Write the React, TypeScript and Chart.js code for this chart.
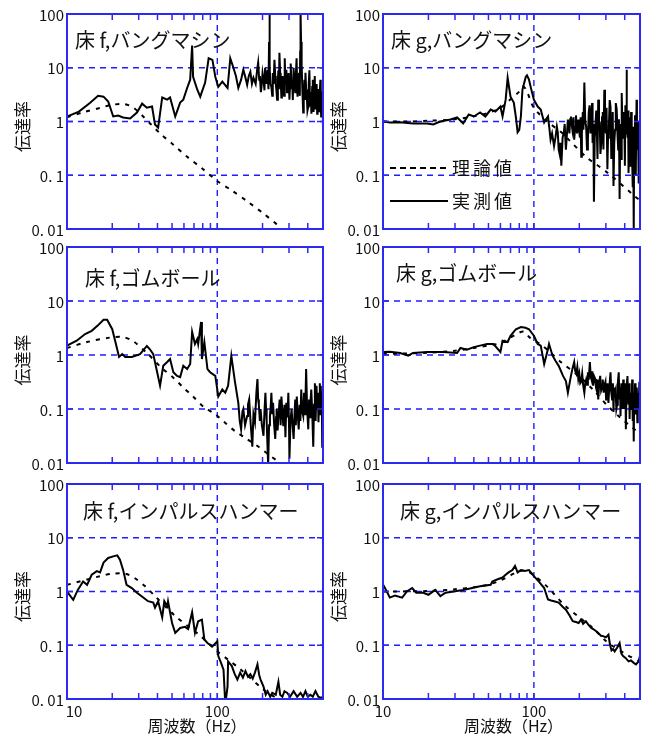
import { useEffect, useRef } from "react";
import { Chart, registerables } from "chart.js";
Chart.register(...registerables);

type Pt = [number, number];

// ---------- axis values ----------
const xMin = 10;
const xMax = 505;
const yMin = 0.01;
const yMax = 100;
const xMinorTicks = [20, 30, 40, 50, 60, 70, 80, 90, 200, 300, 400];
const xGridValues = [100];
const yGridValues = [0.1, 1, 10];
const yTickValues = [100, 10, 1, 0.1, 0.01];
const yTickLabels = ["100", "10", "1", "0. 1", "0. 01"];
const xTickValues = [10, 100];
const xTickLabels = ["10", "100"];
const yAxisTitle = "伝達率";
const xAxisTitle = "周波数（Hz）";
const legendLabels = ["理論値", "実測値"];

// ---------- 床 f, バングマシン ----------
const fBangMeasured: Pt[] = [
  [10, 1.24], [12, 1.53], [14.2, 2.2], [16.1, 3.0], [17.5, 2.9], [18.8, 2.35], [20.3, 1.24], [21.9, 1.29],
  [23.6, 1.19], [26.3, 1.14], [29.2, 1.47], [31.6, 2.15], [34, 1.8], [36.8, 1.9], [38.5, 0.88], [40.4, 0.77],
  [43, 2.8], [46.4, 2.55], [48.5, 2.8], [52.5, 1.24], [56.6, 2.25], [59.4, 2.55], [63, 4.2], [66, 6],
  [68, 26], [69, 6.8], [73.6, 3.9], [77, 2.9], [83, 5.3], [87.6, 15], [92.8, 14], [97, 6.8],
  [101.5, 4.4], [108, 5.5], [117, 4.2], [122, 15], [128, 10], [133, 7], [138, 4.2], [144, 6],
  [149, 9.2], [154, 6.5], [158, 4.8], [162, 7], [166, 8.4], [170, 5], [174, 6.5], [180, 5],
  [184, 9], [187, 12.4], [190, 6], [192, 7], [195, 3.5], [197, 4.5], [200, 8], [203, 6],
  [206, 3.8], [208, 10], [211, 6], [213, 5], [216, 9.2], [219, 4], [221, 30], [222, 110],
  [224, 10], [226, 5], [229, 4.4], [232, 3], [234, 8], [237, 5], [240, 14], [243, 7],
  [245, 5], [248, 3.5], [250, 2.55], [253, 6], [255, 9], [257, 4], [259, 19], [262, 8],
  [264, 6], [267, 2.8], [269, 3], [272, 7], [275, 4.4], [278, 3], [281, 15], [284, 5],
  [288, 9.2], [291, 3.5], [295, 4], [298, 8], [302, 2.55], [305, 5], [308, 12], [312, 4],
  [315, 6], [318, 2.5], [322, 10], [326, 5], [330, 3.5], [333, 7], [337, 15], [340, 4],
  [342, 2.9], [346, 6], [350, 8], [354, 3], [356, 20], [358, 110], [361, 30], [364, 12],
  [368, 4], [373, 1.47], [376, 3], [380, 6], [383, 2.5], [386, 8.1], [390, 4], [394, 3],
  [398, 1.6], [403, 1.9], [406, 5], [410, 9], [414, 2], [418, 3.5], [423, 1.4], [428, 4.4],
  [432, 6], [437, 1.5], [441, 3], [445, 7], [448, 2.5], [450, 1.67], [454, 3], [458, 5],
  [462, 1.4], [465, 2.2], [468, 4], [471, 3.4], [475, 2], [478, 1.5], [482, 3], [485, 6],
  [488, 2], [491, 1.24], [494, 3], [497, 2.5], [500, 1.3], [503, 3.6], [505, 0.7],
];
const fBangTheory: Pt[] = [
  [10, 1.2], [13, 1.5], [16.7, 1.8], [20, 2.05], [24, 2.1], [27, 1.9], [30, 1.5], [32, 1.25],
  [36, 0.9], [41.6, 0.6], [51, 0.37], [63, 0.22], [79, 0.135], [100, 0.078], [125, 0.052],
  [160, 0.032], [200, 0.02], [250, 0.012], [270, 0.0095],
];

// ---------- 床 g, バングマシン ----------
const gBangMeasured: Pt[] = [
  [10, 1.0], [11.1, 0.96], [13, 0.97], [15.8, 0.92], [19.6, 0.92], [21.5, 0.88], [24, 1.0], [28, 1.09],
  [31, 1.19], [34, 0.92], [37, 1.35], [40, 1.24], [44, 1.47], [47.7, 1.24], [51.7, 1.67], [55.6, 1.53],
  [60, 1.9], [62, 1.24], [65, 2.55], [67, 6.5], [70, 2.9], [73.6, 2.25], [76, 1.2], [78, 0.63],
  [80, 0.7], [82, 1.24], [84, 3.9], [88.4, 6.8], [90, 7.2], [92.8, 6], [96, 4], [100, 2.55],
  [106, 1.9], [111, 1.67], [117, 0.96], [124, 1.24], [127, 0.7], [129, 0.46], [132, 0.6], [136, 0.35],
  [139, 0.5], [142, 0.8], [144, 0.63], [146, 0.3], [148, 0.25], [150, 0.4], [152, 0.15], [155, 0.5],
  [158, 0.63], [160, 0.9], [163, 0.3], [165, 0.5], [168, 1.09], [170, 0.8], [172, 0.6], [174, 1.1],
  [176, 1.24], [178, 0.9], [180, 0.7], [183, 1.2], [185, 0.46], [188, 0.8], [190, 1.3], [193, 0.6],
  [197, 1.09], [199, 0.7], [202, 0.5], [204, 1.2], [206, 0.22], [208, 0.6], [211, 1.5], [213, 0.7],
  [216, 5.3], [219, 1.0], [222, 0.8], [225, 0.3], [228, 0.46], [231, 1.5], [234, 2], [237, 0.6],
  [240, 1.24], [243, 2.2], [245, 0.4], [248, 0.9], [250, 0.032], [253, 0.5], [256, 0.9], [259, 1.6],
  [262, 0.5], [264, 0.2], [267, 2.55], [270, 0.8], [273, 1.0], [276, 0.25], [280, 0.41], [283, 1.2],
  [286, 1.5], [289, 0.3], [293, 3.9], [296, 0.9], [300, 0.6], [303, 1.8], [307, 0.13], [310, 0.5],
  [314, 0.8], [318, 2.5], [322, 1.9], [326, 0.2], [330, 0.5], [333, 1.5], [337, 0.063], [341, 0.4],
  [345, 0.7], [349, 2.2], [354, 1.67], [358, 0.6], [362, 0.3], [366, 1.1], [370, 0.036], [373, 0.5],
  [376, 0.9], [379, 0.2], [382, 3.4], [386, 0.8], [390, 0.5], [394, 1.5], [398, 0.81], [401, 0.15],
  [404, 2], [408, 0.6], [411, 9.2], [414, 1.2], [418, 0.5], [421, 1.6], [424, 0.11], [428, 0.7],
  [432, 1.2], [435, 0.15], [438, 0.3], [441, 1.5], [445, 0.63], [448, 0.2], [452, 0.06], [455, 0.8],
  [459, 0.009], [462, 0.5], [465, 0.22], [468, 1.3], [472, 0.9], [475, 0.1], [479, 2.55], [482, 0.5],
  [486, 0.3], [490, 1.0], [494, 0.07], [496, 0.3], [498, 0.6], [500, 0.2], [502, 0.41], [505, 0.15],
];
const gBangTheory: Pt[] = [
  [10, 1.0], [15, 1.0], [20, 1.03], [30, 1.1], [40, 1.25], [50, 1.45], [60, 1.8], [70, 2.6],
  [80, 3.6], [85, 4.5], [90, 3.6], [100, 1.8], [125, 0.96], [150, 0.65], [170, 0.46], [222, 0.22],
  [310, 0.11], [465, 0.041], [505, 0.034],
];

// ---------- 床 f, ゴムボール ----------
const fBallMeasured: Pt[] = [
  [10, 1.49], [11.6, 1.84], [13.2, 2.45], [14.6, 2.8], [16, 3.5], [17.5, 4.5], [18.5, 4.5], [20, 3.0],
  [21, 1.74], [22.2, 0.92], [23.3, 1.04], [24.4, 0.92], [27, 0.92], [30.6, 1.04], [34, 1.47], [35.5, 1.29],
  [37.5, 1.04], [39.8, 0.48], [41.6, 0.27], [43.7, 0.63], [46.4, 0.74], [48.5, 0.84], [51, 0.48], [54, 0.41],
  [56.6, 0.39], [59.4, 0.63], [63, 0.55], [66, 0.68], [68, 2.67], [71, 1.6], [73.6, 1.98], [74.6, 1.6],
  [78, 4.1], [79, 0.84], [82, 1.74], [86, 0.55], [89.6, 0.48], [97, 0.41], [101.5, 0.17], [108, 0.23],
  [113, 0.2], [118, 0.27], [124, 0.96], [131, 0.32], [138, 0.13], [141, 0.06], [144, 0.042], [147, 0.09],
  [149, 0.1], [153, 0.05], [158, 0.074], [160, 0.12], [163, 0.15], [167, 0.05], [171, 0.02], [174, 0.08],
  [178, 0.057], [182, 0.2], [185, 0.36], [187, 0.15], [189, 0.12], [192, 0.06], [194, 0.1], [198, 0.05],
  [203, 0.032], [206, 0.09], [209, 0.2], [211, 0.1], [213, 0.06], [218, 0.009], [221, 0.05], [224, 0.074],
  [227, 0.12], [229, 0.2], [232, 0.08], [235, 0.13], [239, 0.05], [243, 0.028], [246, 0.07], [248, 0.1],
  [252, 0.04], [255, 0.074], [260, 0.15], [264, 0.05], [267, 0.17], [271, 0.09], [275, 0.048], [280, 0.12],
  [284, 0.03], [288, 0.13], [293, 0.07], [297, 0.2], [300, 0.05], [302, 0.012], [307, 0.06], [312, 0.1],
  [317, 0.05], [322, 0.028], [327, 0.09], [330, 0.15], [333, 0.05], [338, 0.17], [343, 0.08], [348, 0.042],
  [353, 0.12], [357, 0.06], [362, 0.23], [367, 0.09], [373, 0.074], [378, 0.2], [384, 0.08], [387, 0.2],
  [390, 0.55], [396, 0.1], [403, 0.042], [408, 0.15], [414, 0.07], [418, 0.15], [422, 0.23], [428, 0.09],
  [435, 0.02], [440, 0.12], [446, 0.3], [451, 0.06], [457, 0.27], [463, 0.1], [467, 0.2], [471, 0.057],
  [476, 0.15], [481, 0.3], [485, 0.08], [488, 0.27], [492, 0.1], [496, 0.2], [499, 0.02], [502, 0.1],
  [505, 0.13],
];
const fBallTheory: Pt[] = [
  [10, 1.35], [13.6, 1.74], [19.3, 2.1], [23.6, 2.15], [27.6, 1.8], [34.6, 1.04], [42, 0.6], [51, 0.38],
  [59.4, 0.25], [69, 0.17], [81, 0.11], [97, 0.08], [113, 0.055], [131, 0.039], [154, 0.029], [188, 0.02],
  [215, 0.015], [250, 0.011], [270, 0.0095],
];

// ---------- 床 g, ゴムボール ----------
const gBallMeasured: Pt[] = [
  [10, 1.14], [11.1, 1.15], [13, 1.09], [14.7, 0.97], [15.8, 1.09], [19.6, 1.14], [25, 1.14], [31, 1.09],
  [32.6, 1.35], [36, 1.25], [40, 1.4], [44, 1.49], [49, 1.6], [54, 1.6], [60, 1.14], [62, 1.84],
  [67, 1.74], [70, 2.27], [76, 3.0], [82, 3.3], [88, 3.2], [92.8, 3.0], [100, 2.27], [106, 1.6],
  [111, 1.49], [117, 0.68], [124, 1.29], [126, 1.6], [133, 0.97], [139, 0.78], [146, 0.63], [156, 0.41],
  [163, 0.33], [168, 0.2], [176, 0.41], [180, 0.55], [185, 0.74], [188, 0.5], [191, 0.45], [194, 0.6],
  [197, 0.36], [200, 0.45], [203, 0.3], [206, 0.32], [209, 0.45], [212, 0.28], [216, 0.2], [219, 0.3],
  [222, 0.35], [225, 0.28], [228, 0.48], [231, 0.35], [235, 0.74], [238, 0.4], [241, 0.35], [244, 0.5],
  [247, 0.27], [251, 0.4], [255, 0.36], [258, 0.25], [261, 0.22], [264, 0.35], [267, 0.15], [271, 0.3],
  [275, 0.41], [279, 0.22], [283, 0.25], [286, 0.35], [290, 0.2], [294, 0.28], [298, 0.32], [301, 0.15],
  [305, 0.18], [308, 0.3], [312, 0.13], [315, 0.22], [318, 0.3], [322, 0.48], [326, 0.2], [330, 0.15],
  [334, 0.3], [337, 0.088], [340, 0.25], [343, 0.2], [348, 0.23], [352, 0.1], [356, 0.12], [360, 0.3],
  [365, 0.48], [368, 0.2], [370, 0.15], [373, 0.25], [375, 0.074], [380, 0.3], [384, 0.2], [388, 0.1],
  [391, 0.35], [394, 0.27], [397, 0.15], [400, 0.1], [404, 0.3], [407, 0.042], [410, 0.15], [412, 0.2],
  [415, 0.35], [417, 0.41], [421, 0.15], [424, 0.12], [428, 0.3], [431, 0.065], [434, 0.2], [438, 0.2],
  [441, 0.1], [445, 0.15], [448, 0.35], [452, 0.06], [455, 0.2], [459, 0.025], [462, 0.15], [465, 0.12],
  [468, 0.3], [470, 0.27], [474, 0.08], [478, 0.1], [481, 0.25], [485, 0.057], [488, 0.15], [492, 0.2],
  [496, 0.1], [500, 0.32], [503, 0.15], [505, 0.11],
];
const gBallTheory: Pt[] = [
  [10, 1.05], [20, 1.1], [30, 1.2], [40, 1.35], [50, 1.5], [57, 1.6], [63, 1.8], [70, 2.1],
  [80, 2.6], [86, 2.7], [93, 2.15], [100, 1.84], [110, 1.6], [125, 1.2], [150, 0.75], [200, 0.4],
  [250, 0.22], [312, 0.11], [370, 0.071], [450, 0.045], [505, 0.035],
];

// ---------- 床 f, インパルスハンマー ----------
const fHammerMeasured: Pt[] = [
  [10, 1.0], [11, 0.7], [11.8, 1.07], [12.8, 1.53], [13.6, 1.33], [14.6, 2.05], [15.8, 2.4], [16.6, 2.27],
  [17.5, 3.45], [18.8, 4.2], [20.3, 4.5], [21.6, 4.7], [22.5, 3.9], [23.6, 2.55], [24.9, 1.33], [27, 1.16],
  [29.2, 0.95], [32, 0.78], [34.6, 0.66], [37.5, 0.62], [38.5, 0.5], [40.4, 0.66], [43, 0.33], [44.4, 0.66],
  [46.4, 0.53], [47, 0.66], [50, 0.26], [52.5, 0.17], [56.6, 0.21], [61, 0.22], [64, 0.2], [68, 0.41],
  [71, 0.17], [74.6, 0.28], [79, 0.3], [82, 0.128], [86, 0.11], [92.8, 0.095], [100, 0.118], [101.5, 0.063],
  [105, 0.05], [110, 0.035], [113, 0.008], [117, 0.017], [118, 0.05], [125, 0.041], [130, 0.03], [136, 0.023],
  [142, 0.031], [148, 0.025], [154, 0.033], [160, 0.026], [166, 0.029], [172, 0.024], [178, 0.031], [185, 0.044],
  [190, 0.028], [194, 0.023], [203, 0.017], [210, 0.012], [216, 0.014], [225, 0.011], [232, 0.013], [245, 0.012],
  [255, 0.021], [262, 0.012], [271, 0.011], [280, 0.014], [292, 0.013], [305, 0.011], [322, 0.014], [340, 0.011],
  [358, 0.013], [372, 0.011], [386, 0.014], [400, 0.011], [416, 0.012], [432, 0.011], [450, 0.014], [470, 0.011],
  [488, 0.0105], [505, 0.011],
];
const fHammerTheory: Pt[] = [
  [10, 1.33], [16.6, 1.93], [20.3, 2.15], [24.4, 2.15], [28, 1.8], [33, 1.26], [38.5, 0.82], [52.5, 0.35],
  [77, 0.15], [100, 0.077], [117, 0.055], [142, 0.036], [203, 0.015], [240, 0.011], [260, 0.0095],
];

// ---------- 床 g, インパルスハンマー ----------
const gHammerMeasured: Pt[] = [
  [10, 1.35], [10.6, 1.0], [11.1, 0.77], [12, 0.84], [13.4, 0.77], [14.4, 1.0], [15.6, 1.16], [16.6, 0.95],
  [18.5, 0.95], [20, 0.87], [22.2, 1.07], [24, 0.82], [26, 0.95], [29.3, 1.0], [34, 1.07], [39, 1.16],
  [44, 1.25], [51.7, 1.33], [53, 1.53], [57, 1.67], [62, 1.82], [65, 2.05], [68, 2.27], [72, 2.5],
  [75, 3.0], [78, 2.27], [82, 2.5], [87, 2.4], [92.8, 2.5], [100, 1.93], [108, 1.53], [117, 1.16],
  [124, 0.71], [130, 0.68], [136, 0.66], [146, 0.62], [155, 0.52], [163, 0.46], [172, 0.36], [181, 0.28],
  [190, 0.27], [198, 0.26], [205, 0.3], [212, 0.25], [221, 0.28], [230, 0.24], [240, 0.21], [254, 0.19],
  [267, 0.17], [278, 0.15], [288, 0.148], [300, 0.14], [312, 0.157], [320, 0.1], [327, 0.08], [335, 0.085],
  [343, 0.077], [356, 0.09], [370, 0.11], [380, 0.07], [390, 0.063], [405, 0.058], [424, 0.05], [440, 0.052],
  [459, 0.047], [475, 0.044], [494, 0.05], [505, 0.063],
];
const gHammerTheory: Pt[] = [
  [10, 1.0], [20, 1.02], [30, 1.1], [40, 1.2], [50, 1.35], [60, 1.6], [70, 2.0], [80, 2.4],
  [90, 2.4], [100, 2.0], [120, 1.3], [136, 0.9], [160, 0.55], [200, 0.33], [250, 0.2], [300, 0.12],
  [400, 0.07], [505, 0.05],
];

// ---------- layout / style ----------
const FONT = '"Noto Sans CJK JP", "Noto Sans", sans-serif';
const FRAME = "#2a2af0";
const GRID = "#1e1eff";

type PanelCfg = {
  title: string;
  measured: Pt[];
  theory: Pt[];
  area: { l: number; r: number; t: number; b: number };
  titleX: number;
  titleY: number;
  yTitleX: number;
  bottomRow: boolean;
  legend: boolean;
};

const panels: PanelCfg[] = [
  { title: "床 f,バングマシン", measured: fBangMeasured, theory: fBangTheory, area: { l: 67, r: 323, t: 14, b: 229 }, titleX: 75, titleY: 40, yTitleX: 23, bottomRow: false, legend: false },
  { title: "床 g,バングマシン", measured: gBangMeasured, theory: gBangTheory, area: { l: 383, r: 640, t: 14, b: 229 }, titleX: 391, titleY: 40, yTitleX: 339, bottomRow: false, legend: true },
  { title: "床 f,ゴムボール", measured: fBallMeasured, theory: fBallTheory, area: { l: 67, r: 323, t: 247, b: 463 }, titleX: 85, titleY: 278, yTitleX: 23, bottomRow: false, legend: false },
  { title: "床 g,ゴムボール", measured: gBallMeasured, theory: gBallTheory, area: { l: 383, r: 640, t: 247, b: 463 }, titleX: 396, titleY: 273, yTitleX: 339, bottomRow: false, legend: false },
  { title: "床 f,インパルスハンマー", measured: fHammerMeasured, theory: fHammerTheory, area: { l: 67, r: 323, t: 484, b: 699 }, titleX: 83, titleY: 511, yTitleX: 23, bottomRow: true, legend: false },
  { title: "床 g,インパルスハンマー", measured: gHammerMeasured, theory: gHammerTheory, area: { l: 383, r: 640, t: 484, b: 699 }, titleX: 400, titleY: 511, yTitleX: 339, bottomRow: true, legend: false },
];

const W = 645;
const H = 735;

function makeDecor(cfg: PanelCfg) {
  return {
    id: "decor",
    beforeDatasetsDraw(chart: any) {
      const { ctx, chartArea: a, scales } = chart;
      const x = scales.x;
      const y = scales.y;
      ctx.save();
      ctx.strokeStyle = GRID;
      ctx.lineWidth = 1.4;
      ctx.setLineDash([6, 5]);
      for (const v of xGridValues) {
        const px = x.getPixelForValue(v);
        ctx.beginPath();
        ctx.moveTo(px, a.top);
        ctx.lineTo(px, a.bottom);
        ctx.stroke();
      }
      for (const v of yGridValues) {
        const py = y.getPixelForValue(v);
        ctx.beginPath();
        ctx.moveTo(a.left, py);
        ctx.lineTo(a.right, py);
        ctx.stroke();
      }
      ctx.restore();
    },
    afterDatasetsDraw(chart: any) {
      const { ctx, chartArea: a, scales } = chart;
      const x = scales.x;
      const y = scales.y;
      ctx.save();
      ctx.strokeStyle = FRAME;
      ctx.lineWidth = 1.5;
      ctx.setLineDash([]);
      const tl = 6;
      for (const v of [...xMinorTicks, ...xGridValues]) {
        const px = x.getPixelForValue(v);
        ctx.beginPath();
        ctx.moveTo(px, a.top);
        ctx.lineTo(px, a.top + tl);
        ctx.moveTo(px, a.bottom);
        ctx.lineTo(px, a.bottom - tl);
        ctx.stroke();
      }
      for (const v of yGridValues) {
        const py = y.getPixelForValue(v);
        ctx.beginPath();
        ctx.moveTo(a.left, py);
        ctx.lineTo(a.left + tl, py);
        ctx.moveTo(a.right, py);
        ctx.lineTo(a.right - tl, py);
        ctx.stroke();
      }
      ctx.lineWidth = 2;
      ctx.strokeRect(a.left, a.top, a.right - a.left, a.bottom - a.top);
      ctx.restore();
    },
    afterDraw(chart: any) {
      const { ctx, chartArea: a, scales } = chart;
      const x = scales.x;
      const y = scales.y;
      ctx.save();
      ctx.fillStyle = "#111";
      // y tick labels
      ctx.font = `15px ${FONT}`;
      ctx.textAlign = "right";
      ctx.textBaseline = "middle";
      yTickValues.forEach((v, i) => {
        ctx.fillText(yTickLabels[i], a.left - 3, y.getPixelForValue(v) + 1);
      });
      // x tick labels
      if (cfg.bottomRow) {
        ctx.textAlign = "center";
        xTickValues.forEach((v, i) => {
          const px = x.getPixelForValue(v);
          ctx.fillText(xTickLabels[i], px + (v === 10 && a.left < 100 ? 7 : 0), a.bottom + 12);
        });
        ctx.font = `16px ${FONT}`;
        ctx.fillText(xAxisTitle, (a.left + a.right) / 2 + 2, a.bottom + 27);
      }
      // y axis title
      ctx.font = `17px ${FONT}`;
      ctx.save();
      ctx.translate(cfg.yTitleX, (a.top + a.bottom) / 2 + 5);
      ctx.rotate(-Math.PI / 2);
      ctx.textAlign = "center";
      ctx.textBaseline = "middle";
      ctx.fillText(yAxisTitle, 0, 0);
      ctx.restore();
      // panel title
      ctx.font = `20px ${FONT}`;
      ctx.textAlign = "left";
      ctx.textBaseline = "middle";
      ctx.fillText(cfg.title, cfg.titleX, cfg.titleY);
      // legend
      if (cfg.legend) {
        const lx0 = a.left + 7;
        const lx1 = a.left + 65;
        const rows = [168, 201];
        ctx.strokeStyle = "#000";
        ctx.lineWidth = 2;
        rows.forEach((ly, i) => {
          ctx.setLineDash(i === 0 ? [6, 4] : []);
          ctx.beginPath();
          ctx.moveTo(lx0, ly);
          ctx.lineTo(lx1, ly);
          ctx.stroke();
          ctx.font = `18px ${FONT}`;
          ctx.textAlign = "left";
          const label = legendLabels[i];
          for (let k = 0; k < label.length; k++) {
            ctx.fillText(label[k], lx1 + 4 + k * 21, ly);
          }
        });
      }
      ctx.restore();
    },
  };
}

function Panel({ cfg }: { cfg: PanelCfg }) {
  const ref = useRef<HTMLCanvasElement>(null);
  useEffect(() => {
    const chart = new Chart(ref.current as HTMLCanvasElement, {
      type: "line",
      data: {
        datasets: [
          {
            label: legendLabels[1],
            data: cfg.measured.map(([fx, fy]) => ({ x: fx, y: fy })),
            borderColor: "#000",
            borderWidth: 2,
            pointRadius: 0,
            fill: false,
            tension: 0,
          },
          {
            label: legendLabels[0],
            data: cfg.theory.map(([fx, fy]) => ({ x: fx, y: fy })),
            borderColor: "#000",
            borderWidth: 2,
            borderDash: [4, 6],
            pointRadius: 0,
            fill: false,
            tension: 0.3,
          },
        ],
      },
      options: {
        responsive: false,
        animation: false,
        devicePixelRatio: 1,
        events: [],
        layout: {
          padding: { left: cfg.area.l, right: W - cfg.area.r, top: cfg.area.t, bottom: H - cfg.area.b },
        },
        plugins: { legend: { display: false }, tooltip: { enabled: false }, title: { display: false } },
        scales: {
          x: { type: "logarithmic", min: xMin, max: xMax, display: false },
          y: { type: "logarithmic", min: yMin, max: yMax, display: false },
        },
      },
      plugins: [makeDecor(cfg)],
    } as any);
    return () => chart.destroy();
  }, [cfg]);
  return (
    <canvas
      ref={ref}
      width={W}
      height={H}
      style={{ position: "absolute", left: 0, top: 0, width: W, height: H }}
    />
  );
}

export default function App() {
  return (
    <div style={{ position: "absolute", left: 0, top: 0, width: W, height: H, background: "#fff" }}>
      {panels.map((p, i) => (
        <Panel key={i} cfg={p} />
      ))}
    </div>
  );
}
